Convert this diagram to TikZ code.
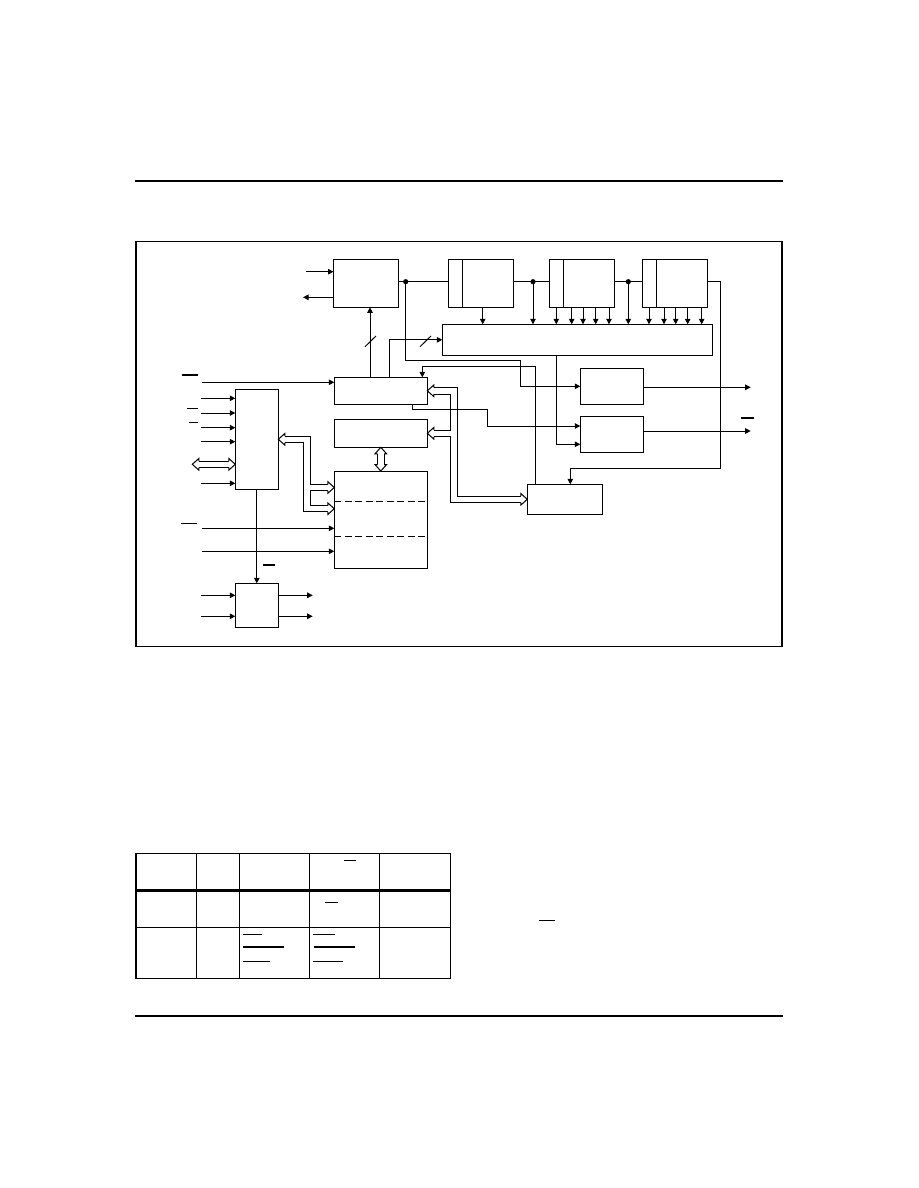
\documentclass[tikz,border=0pt]{standalone}
\usetikzlibrary{arrows.meta}
\begin{document}
\begin{tikzpicture}[x=1pt,y=-1pt,line width=1pt,
  blk/.style={draw,inner sep=0pt,outer sep=0pt},
  sig/.style={-{Triangle[length=5.5pt,width=5.5pt]}},
  busout/.style={line width=7.5pt,line join=miter},
  busin/.style={white,line width=5.5pt,line join=miter},
  bar/.style={line width=1.2pt},
  fathead/.pic={\filldraw[fill=white,line join=miter] (-6.5,3.2) -- (-6.5,5.8) -- (0,0) -- (-6.5,-5.8) -- (-6.5,-3.2);}]
\useasboundingbox (0,0) rectangle (918,1188);
% page rules and frame
\draw[line width=2pt] (135,181) -- (782.5,181);
\draw[line width=2pt] (135,1015.7) -- (782.5,1015.7);
\draw[line width=1.3pt] (136,241.5) rectangle (782,646.5);
% blocks
\node[blk,minimum width=65,minimum height=48] (A) at (366,283.3) {};
\node[blk,minimum width=65,minimum height=48] (B1) at (480.5,283.3) {};
\node[blk,minimum width=65,minimum height=48] (B2) at (582,283.3) {};
\node[blk,minimum width=65,minimum height=48] (B3) at (674.5,283.3) {};
\foreach \b in {B1,B2,B3} \draw ([xshift=14pt]\b.north west) -- ([xshift=14pt]\b.south west);
\node[blk,minimum width=270.4,minimum height=31] (D) at (577.5,339.8) {};
\node[blk,minimum width=93,minimum height=27] (C) at (380.8,390.8) {};
\node[blk,minimum width=93,minimum height=28] (F) at (380.8,433.3) {};
\node[blk,minimum width=93,minimum height=97.3] (G) at (380.8,519.7) {};
\draw[dash pattern=on 7pt off 3.5pt] (G.west |- 0,501.3) -- (G.east |- 0,501.3);
\draw[dash pattern=on 7pt off 3.5pt] (G.west |- 0,536.3) -- (G.east |- 0,536.3);
\node[blk,minimum width=43,minimum height=99.7] (E) at (256.8,439.2) {};
\node[blk,minimum width=43,minimum height=43.7] (K) at (256.8,605.2) {};
\node[blk,minimum width=63.4,minimum height=36] (I) at (612,386.3) {};
\node[blk,minimum width=63.4,minimum height=36] (J) at (612,434.3) {};
\node[blk,minimum width=75.4,minimum height=30] (H) at (565,499.3) {};
% wide buses
\coordinate (bl) at (192.3,464.3);
\draw[busout,shorten <=5.5pt,shorten >=5.5pt] (E.east |- 0,439.3) -| (306.8,508.7) -- (G.west |- 0,508.7);
\draw[busout,shorten >=5.5pt] (306.8,487.5) -- (G.west |- 0,487.5);
\draw[busout,shorten <=5.5pt,shorten >=5.5pt] (C.east) -| (454,499.3) -- (H.west);
\draw[busout,shorten >=5.5pt] (454,433.3) -- (F.east);
\draw[busout,shorten <=5.5pt,shorten >=5.5pt] (F.south) -- (G.north);
\draw[busout,shorten <=5.5pt,shorten >=5.5pt] (bl) -- (E.west |- bl);
\draw[busin,shorten <=5.5pt,shorten >=5.5pt] (E.east |- 0,439.3) -| (306.8,508.7) -- (G.west |- 0,508.7);
\draw[busin,shorten >=5.5pt] (306.8,487.5) -- (G.west |- 0,487.5);
\draw[busin,shorten <=5.5pt,shorten >=5.5pt] (C.east) -| (454,499.3) -- (H.west);
\draw[busin,shorten >=5.5pt] (454,433.3) -- (F.east);
\draw[busin,shorten <=5.5pt,shorten >=5.5pt] (F.south) -- (G.north);
\draw[busin,shorten <=5.5pt,shorten >=5.5pt] (bl) -- (E.west |- bl);
\pic[rotate=180] at (E.east |- 0,439.3) {fathead};
\pic at (G.west |- 0,487.5) {fathead};
\pic at (G.west |- 0,508.7) {fathead};
\pic[rotate=180] at (C.east) {fathead};
\pic[rotate=180] at (F.east) {fathead};
\pic at (H.west) {fathead};
\pic[rotate=90] at (F.south) {fathead};
\pic[rotate=270] at (G.north) {fathead};
\pic[rotate=180] at (bl) {fathead};
\pic at (E.west |- bl) {fathead};
% top row links
\coordinate (d1) at (405.7,281.7);
\coordinate (d2) at (533,281.7);
\coordinate (d3) at (628.3,281.7);
\draw (A.east |- d1) -- (B1.west |- d1);
\draw (B1.east |- d2) -- (B2.west |- d2);
\draw (B2.east |- d3) -- (B3.west |- d3);
\foreach \p in {d1,d2,d3} \fill (\p) circle (2.6);
\draw[sig] (d2) -- (D.north -| d2);
\draw[sig] (d3) -- (D.north -| d3);
\draw[sig] (B1.south -| 482.7,0) -- (D.north -| 482.7,0);
\foreach \x in {556.3,571.7,583,595.7,609} \draw[sig] (B2.south -| \x,0) -- (D.north -| \x,0);
\foreach \x in {649,664,675.7,687.7,701.7} \draw[sig] (B3.south -| \x,0) -- (D.north -| \x,0);
\draw[sig] (306,271.7) -- (A.west |- 0,271.7);
\draw[sig] (A.west |- 0,297.3) -- (303,297.3);
\draw[sig] (d1) |- (520,360) |- (I.west);
\draw[sig] (B3.east |- d1) -| (720.7,468.3) -| (H.north -| 570.3,0);
\draw[sig] (C.north -| 370,0) -- (A.south -| 370,0);
\draw[sig] (C.north -| 389.3,0) |- (D.west);
\draw (365,346.7) -- (376,336);
\draw (420,346.7) -- (431,336);
\draw[sig] (H.north -| 535.7,0) |- (422.3,366.7) -- (C.north -| 422.3,0);
\draw[sig] (D.south -| 556.7,0) |- (J.west |- 0,444.3);
\draw[sig] (C.south -| 412.3,0) |- (487.7,409.3) |- (J.west |- 0,426);
\draw[sig] (I.east |- 0,387.3) -- (750.7,387.3);
\draw[sig] (J.east |- 0,431) -- (750.7,431);
% left side inputs
\draw[sig] (202,382.3) -- (C.west |- 0,382.3);
\foreach \y in {398.3,413,427.7,441.7,483.3} \draw[sig] (201,\y) -- (E.west |- 0,\y);
\foreach \y in {528.3,551.3} \draw[sig] (202,\y) -- (G.west |- 0,\y);
\draw[sig] (E.south) -- (K.north);
\foreach \y in {595.3,616.3} {
  \draw[sig] (201,\y) -- (K.west |- 0,\y);
  \draw[sig] (K.east |- 0,\y) -- (312.7,\y);
}
% bars
\draw[bar] (181.7,375) -- (198,375);
\draw[bar] (187,408.3) -- (198,408.3);
\draw[bar] (189,422.3) -- (198,422.3);
\draw[bar] (181,523.3) -- (197,523.3);
\draw[bar] (263,565) -- (275,565);
\draw[bar] (740.7,418) -- (754,418);
% table
\draw[line width=1.5pt] (136,853.3) rectangle (450.7,978.3);
\foreach \x in {196.7,239.3,309.3,379.3} \draw[line width=1.5pt] (\x,853.3) -- (\x,978.3);
\draw[line width=3pt] (136,890) -- (450.7,890);
\draw[line width=1.5pt] (136,927.3) -- (450.7,927.3);
\draw[bar] (344.3,860.3) -- (356,860.3);
\draw[bar] (325.3,902.3) -- (337.7,902.3);
\draw[bar] (243.3,934.3) -- (261.7,934.3);
\draw[bar] (243.3,947) -- (284,947);
\draw[bar] (243.3,961.3) -- (270,961.3);
\draw[bar] (313,934.3) -- (335,934.3);
\draw[bar] (314,947) -- (355.3,947);
\draw[bar] (313,961.3) -- (342.7,961.3);
\draw[bar] (539,920.3) -- (555,920.3);
\end{tikzpicture}
\end{document}
